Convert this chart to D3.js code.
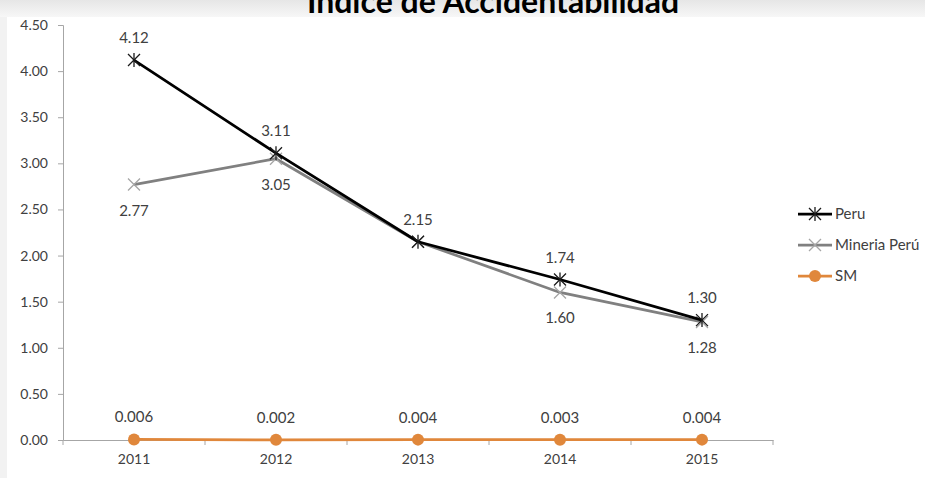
<!DOCTYPE html>
<html lang="es">
<head>
    <meta charset="UTF-8">
    <title>Índice de Accidentabilidad</title>
    <script src="https://d3js.org/d3.v7.min.js"></script>
    <style>
        body { margin: 0; background: #fff; }
        text { font-family: Lato, "Open Sans", sans-serif; fill: #404040; }
    </style>
</head>
<body>
    <svg></svg>
    <script>
        const years = ["2011", "2012", "2013", "2014", "2015"];
        const peru = [4.12, 3.11, 2.15, 1.74, 1.30];
        const mineria = [2.77, 3.05, 2.15, 1.60, 1.28];
        const sm = [0.006, 0.002, 0.004, 0.003, 0.004];
        const yTicks = [0, 0.5, 1, 1.5, 2, 2.5, 3, 3.5, 4, 4.5];

        const width = 925, height = 478;
        const svg = d3.select("svg").attr("width", width).attr("height", height);

        // grey frame at top/left like the screenshot
        const grad = svg.append("defs").append("linearGradient")
            .attr("id", "topfade").attr("x1", 0).attr("y1", 0).attr("x2", 0).attr("y2", 1);
        grad.append("stop").attr("offset", "0%").attr("stop-color", "#e6e6e6");
        grad.append("stop").attr("offset", "100%").attr("stop-color", "#f7f7f7");
        svg.append("rect").attr("width", width).attr("height", 17).attr("fill", "url(#topfade)");
        svg.append("rect").attr("y", 17).attr("width", 7).attr("height", height - 17).attr("fill", "#f2f2f2");

        const plotL = 63, plotR = 773, plotT = 25, plotB = 440;
        const x = d3.scaleBand().domain(years).range([plotL, plotR]);
        const y = d3.scaleLinear().domain([0, 4.5]).range([plotB, plotT]);
        const cx = d => x(d) + x.bandwidth() / 2;

        // y axis
        const yAxis = svg.append("g").attr("transform", `translate(${plotL},0)`)
            .call(d3.axisLeft(y).tickValues(yTicks).tickFormat(d3.format(".2f")).tickSize(5).tickPadding(10));
        yAxis.select(".domain").attr("stroke", "#a6a6a6");
        yAxis.selectAll(".tick line").attr("stroke", "#a6a6a6");
        yAxis.selectAll("text").attr("font-size", 14).attr("fill", "#404040");

        // x axis
        const xAxis = svg.append("g").attr("transform", `translate(0,${plotB})`)
            .call(d3.axisBottom(x).tickSize(0).tickPadding(14));
        xAxis.select(".domain").attr("stroke", "#a6a6a6");
        xAxis.selectAll("text").attr("font-size", 14).attr("fill", "#404040");
        svg.append("g").selectAll("line")
            .data(years.map(d => x(d)).concat([plotR]))
            .join("line")
            .attr("x1", d => d).attr("x2", d => d)
            .attr("y1", plotB).attr("y2", plotB + 5)
            .attr("stroke", "#a6a6a6");

        const line = d3.line().x((d, i) => cx(years[i])).y(d => y(d));

        const series = [
            { name: "Peru", values: peru, color: "#000000", mark: "#1a1a1a", type: "star", labelDy: -17 },
            { name: "Mineria Perú", values: mineria, color: "#808080", mark: "#a6a6a6", type: "x", labelDy: 31 },
            { name: "SM", values: sm, color: "#e0873b", mark: "#e0873b", type: "dot", labelDy: -17 }
        ];

        function marker(g, type, color) {
            if (type === "dot") {
                g.append("circle").attr("r", 6).attr("fill", color);
            } else {
                const s = 6;
                g.append("path").attr("d", `M${-s},${-s}L${s},${s}M${-s},${s}L${s},${-s}`)
                    .attr("stroke", color).attr("stroke-width", 1.3);
                if (type === "star") {
                    g.append("path").attr("d", `M0,${-s - 1}L0,${s + 1}`)
                        .attr("stroke", color).attr("stroke-width", 1.3);
                }
            }
        }

        // draw SM first, then Mineria, then Peru on top
        [series[2], series[1], series[0]].forEach(s => {
            svg.append("path").datum(s.values)
                .attr("d", line).attr("fill", "none")
                .attr("stroke", s.color).attr("stroke-width", 2.75)
                .attr("stroke-linejoin", "round");
            s.values.forEach((v, i) => {
                const g = svg.append("g").attr("transform", `translate(${cx(years[i])},${y(v)})`);
                marker(g, s.type, s.mark);
            });
        });

        // data labels
        const fmt = d3.format(".2f");
        series.forEach(s => {
            svg.append("g").selectAll("text")
                .data(s.values.map((v, i) => ({ v, i })).filter(d => !(s.name === "Mineria Perú" && d.i === 2)))
                .join("text")
                .attr("x", d => cx(years[d.i]))
                .attr("y", d => y(d.v) + s.labelDy)
                .attr("text-anchor", "middle")
                .attr("font-size", 15)
                .text(d => s.name === "SM" ? d3.format(".3f")(d.v) : fmt(d.v));
        });

        // legend
        const leg = svg.append("g").attr("transform", "translate(798,214)");
        series.forEach((s, i) => {
            const row = leg.append("g").attr("transform", `translate(0,${i * 31})`);
            row.append("line").attr("x1", 0).attr("x2", 34).attr("stroke", s.color).attr("stroke-width", 2.75);
            const m = row.append("g").attr("transform", "translate(17,0)");
            marker(m, s.type, s.mark);
            row.append("text").attr("x", 37).attr("y", 5).attr("font-size", 15).attr("fill", "#404040").text(s.name);
        });

        // title (clipped at top in the original)
        svg.append("text")
            .attr("x", 493).attr("y", 13)
            .attr("text-anchor", "middle")
            .attr("font-size", 32).attr("font-weight", "bold")
            .style("fill", "#000")
            .text("Índice de Accidentabilidad");
    </script>
</body>
</html>
